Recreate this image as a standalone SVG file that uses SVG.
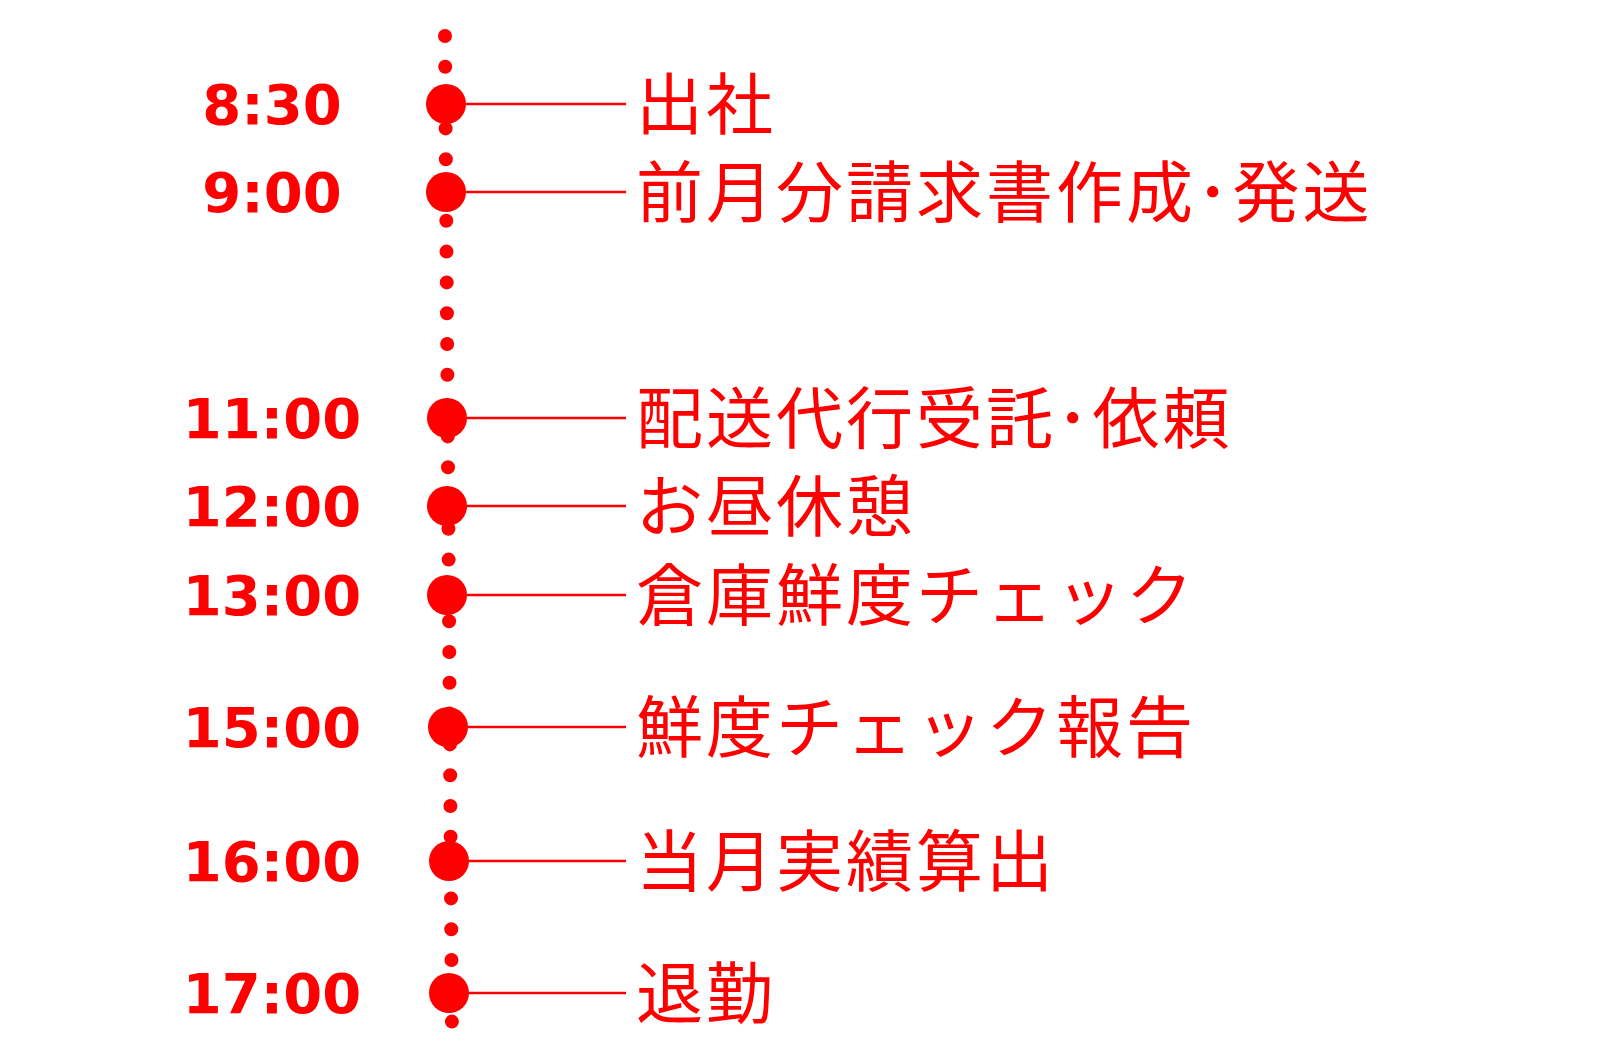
<svg xmlns="http://www.w3.org/2000/svg" width="1600" height="1044" viewBox="0 0 1600 1044">
<style>
.t{font-family:"DejaVu Sans",Verdana,sans-serif;font-weight:bold;font-size:56px;fill:#f00;text-anchor:middle}
.j{font-family:"Noto Sans CJK JP",sans-serif;font-size:67px;letter-spacing:3px;fill:#f00}
.c{fill:#f00}
.l{stroke:#f00;stroke-width:2.5}
</style>
<rect width="1600" height="1044" fill="#fff"/>
<g id="connectors">
<line x1="445" y1="36" x2="452" y2="1036" stroke="#f00" stroke-width="14" stroke-linecap="round" stroke-dasharray="0 30.8"/>
<line class="l" x1="447" y1="104" x2="626" y2="104"/>
<line class="l" x1="447" y1="192" x2="626" y2="192"/>
<line class="l" x1="447" y1="418" x2="626" y2="418"/>
<line class="l" x1="447" y1="506" x2="626" y2="506"/>
<line class="l" x1="447" y1="595" x2="626" y2="595"/>
<line class="l" x1="447" y1="727" x2="626" y2="727"/>
<line class="l" x1="447" y1="861" x2="626" y2="861"/>
<line class="l" x1="447" y1="993" x2="626" y2="993"/>
</g>
<g id="n1"><circle class="c" cx="446" cy="104" r="20"/><text class="t" x="272" y="124">8:30</text><text class="j" x="636" y="129">出社</text></g>
<g id="n2"><circle class="c" cx="446" cy="192" r="20"/><text class="t" x="272" y="212">9:00</text><text class="j" x="636" y="217">前月分請求書作成･発送</text></g>
<g id="n3"><circle class="c" cx="447" cy="418" r="20"/><text class="t" x="272" y="438">11:00</text><text class="j" x="636" y="443">配送代行受託･依頼</text></g>
<g id="n4"><circle class="c" cx="447" cy="506" r="20"/><text class="t" x="272" y="526">12:00</text><text class="j" x="636" y="531">お昼休憩</text></g>
<g id="n5"><circle class="c" cx="447" cy="595" r="20"/><text class="t" x="272" y="615">13:00</text><text class="j" x="636" y="620">倉庫鮮度チェック</text></g>
<g id="n6"><circle class="c" cx="448" cy="727" r="20"/><text class="t" x="272" y="747">15:00</text><text class="j" x="636" y="752">鮮度チェック報告</text></g>
<g id="n7"><circle class="c" cx="449" cy="861" r="20"/><text class="t" x="272" y="881">16:00</text><text class="j" x="636" y="886">当月実績算出</text></g>
<g id="n8"><circle class="c" cx="449" cy="993" r="20"/><text class="t" x="272" y="1013">17:00</text><text class="j" x="636" y="1018">退勤</text></g>
</svg>
